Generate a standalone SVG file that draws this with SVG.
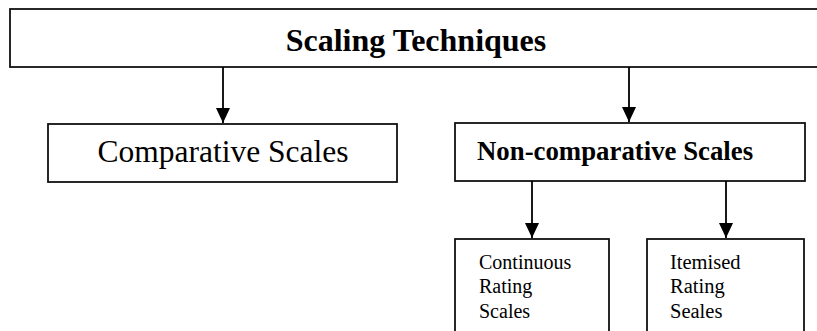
<svg xmlns="http://www.w3.org/2000/svg" width="817" height="331" viewBox="0 0 817 331">
<style>
.box{fill:#fff;stroke:#111;stroke-width:1.8}
.t{font-family:"Liberation Serif","Times New Roman",serif;fill:#000}
.b{font-weight:bold}
.conn line{stroke:#000;stroke-width:1.8}
</style>
<defs>
<marker id="ah" viewBox="0 0 15 14" refX="15" refY="7" markerWidth="15" markerHeight="14" markerUnits="userSpaceOnUse" orient="auto">
<path d="M0,0 L15,7 L0,14 Z" fill="#000"/>
</marker>
</defs>
<rect width="817" height="331" fill="#fff"/>
<g id="scaling-techniques">
<rect class="box" x="10" y="9" width="820" height="58"/>
<text class="t b" x="416" y="51" font-size="32" text-anchor="middle">Scaling Techniques</text>
</g>
<g id="comparative">
<rect class="box" x="48" y="124" width="349" height="58"/>
<text class="t" x="223" y="162" font-size="31.5" text-anchor="middle">Comparative Scales</text>
</g>
<g id="non-comparative">
<rect class="box" x="455" y="123" width="350" height="58"/>
<text class="t b" x="477" y="160" font-size="26.8">Non-comparative Scales</text>
</g>
<g id="continuous">
<rect class="box" x="455" y="239" width="154" height="100"/>
<text class="t" font-size="20"><tspan x="479" y="269">Continuous</tspan><tspan x="479" y="293">Rating</tspan><tspan x="479" y="318">Scales</tspan></text>
</g>
<g id="itemised">
<rect class="box" x="647" y="239" width="157" height="100"/>
<text class="t" font-size="20.5"><tspan x="670" y="269">Itemised</tspan><tspan x="670" y="293">Rating</tspan><tspan x="670" y="318">Seales</tspan></text>
</g>
<g id="connectors" class="conn">
<line x1="223" y1="67" x2="223" y2="123" marker-end="url(#ah)"/>
<line x1="629" y1="67" x2="629" y2="122" marker-end="url(#ah)"/>
<line x1="532" y1="181" x2="532" y2="238" marker-end="url(#ah)"/>
<line x1="726" y1="181" x2="726" y2="238" marker-end="url(#ah)"/>
</g>
</svg>
